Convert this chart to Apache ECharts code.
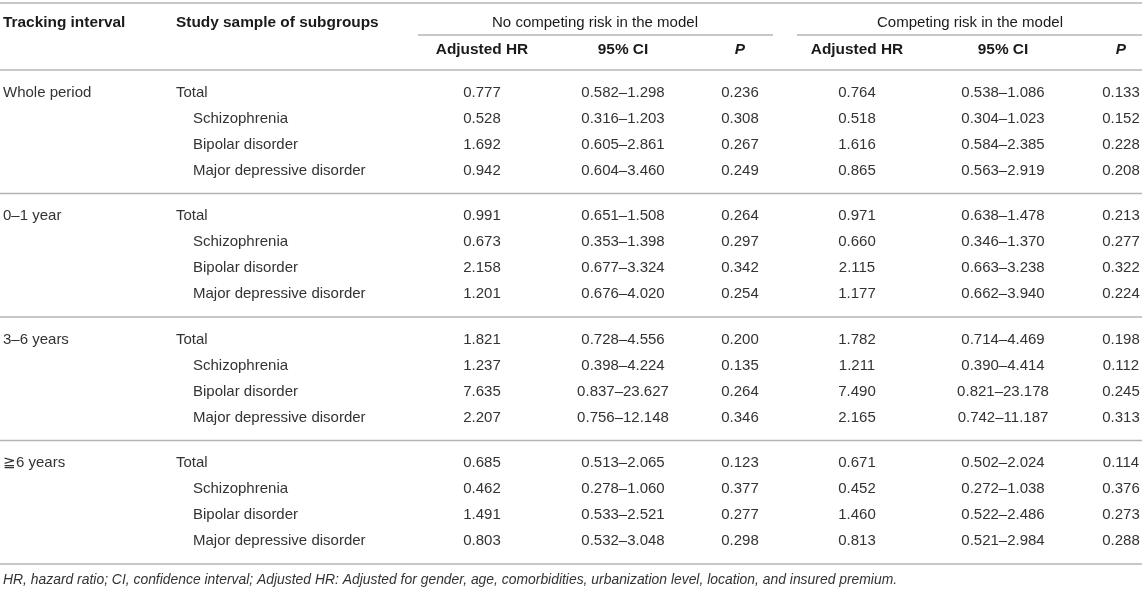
<html>
  <head>
    <title>HR table</title>
    <script src="https://cdn.jsdelivr.net/npm/echarts@6.0.0/dist/echarts.min.js"></script>
    <style>
      body { margin: 0; background: #ffffff; }
      #table { width: 1142px; height: 591px; }
    </style>
  </head>
  <body>
    <div id="table"></div>
    <script>
      // table data
      const intervals = ['Whole period', '0–1 year', '3–6 years', '≧6 years']
      const subgroups = ['Total', 'Schizophrenia', 'Bipolar disorder', 'Major depressive disorder']

      // no competing risk in the model
      const noCompHR = [
        [0.777, 0.528, 1.692, 0.942],
        [0.991, 0.673, 2.158, 1.201],
        [1.821, 1.237, 7.635, 2.207],
        [0.685, 0.462, 1.491, 0.803]
      ]
      const noCompLow = [
        [0.582, 0.316, 0.605, 0.604],
        [0.651, 0.353, 0.677, 0.676],
        [0.728, 0.398, 0.837, 0.756],
        [0.513, 0.278, 0.533, 0.532]
      ]
      const noCompHigh = [
        [1.298, 1.203, 2.861, 3.460],
        [1.508, 1.398, 3.324, 4.020],
        [4.556, 4.224, 23.627, 12.148],
        [2.065, 1.060, 2.521, 3.048]
      ]
      const noCompP = [
        [0.236, 0.308, 0.267, 0.249],
        [0.264, 0.297, 0.342, 0.254],
        [0.200, 0.135, 0.264, 0.346],
        [0.123, 0.377, 0.277, 0.298]
      ]

      // competing risk in the model
      const compHR = [
        [0.764, 0.518, 1.616, 0.865],
        [0.971, 0.660, 2.115, 1.177],
        [1.782, 1.211, 7.490, 2.165],
        [0.671, 0.452, 1.460, 0.813]
      ]
      const compLow = [
        [0.538, 0.304, 0.584, 0.563],
        [0.638, 0.346, 0.663, 0.662],
        [0.714, 0.390, 0.821, 0.742],
        [0.502, 0.272, 0.522, 0.521]
      ]
      const compHigh = [
        [1.086, 1.023, 2.385, 2.919],
        [1.478, 1.370, 3.238, 3.940],
        [4.469, 4.414, 23.178, 11.187],
        [2.024, 1.038, 2.486, 2.984]
      ]
      const compP = [
        [0.133, 0.152, 0.228, 0.208],
        [0.213, 0.277, 0.322, 0.224],
        [0.198, 0.112, 0.245, 0.313],
        [0.114, 0.376, 0.273, 0.288]
      ]

      const footnote = 'HR, hazard ratio; CI, confidence interval; Adjusted HR: Adjusted for gender, age, comorbidities, urbanization level, location, and insured premium.'

      // layout
      const W = 1142
      const FONT = '"Liberation Sans", Arial, Helvetica, sans-serif'
      const txtColor = '#333333'
      const headColor = '#1a1a1a'
      const lineColor = '#b4b4b4'
      const colX = { interval: 3, sub: 176, indent: 193 }
      const numCols = [482, 623, 740, 857, 1003, 1121]
      const headerBottom = 70
      const blockH = 123.5
      const rowFirst = 22.5
      const rowStep = 26

      const fmt = v => v.toFixed(3)

      const els = []

      function text(str, x, y, opts) {
        opts = opts || {}
        els.push({
          type: 'text',
          silent: true,
          style: {
            text: str,
            x: x,
            y: y,
            fill: opts.color || txtColor,
            font: (opts.font || '') + ' ' + (opts.size || 15) + 'px ' + FONT,
            align: opts.align || 'left',
            verticalAlign: 'middle'
          }
        })
      }

      function hline(x1, x2, y) {
        els.push({
          type: 'line',
          silent: true,
          shape: { x1: x1, y1: y, x2: x2, y2: y },
          style: { stroke: lineColor, lineWidth: 1.6 }
        })
      }

      // header
      hline(0, W, 3)
      text('Tracking interval', colX.interval, 23, { font: 'bold', color: headColor, size: 15.4 })
      text('Study sample of subgroups', colX.sub, 23, { font: 'bold', color: headColor, size: 15.4 })
      text('No competing risk in the model', 595, 23, { align: 'center', color: headColor })
      text('Competing risk in the model', 970, 23, { align: 'center', color: headColor })
      hline(418, 773, 35)
      hline(797, W, 35)
      const subHead = ['Adjusted HR', '95% CI', 'P', 'Adjusted HR', '95% CI', 'P']
      subHead.forEach((h, i) => {
        text(h, numCols[i], 50, {
          align: 'center',
          color: headColor,
          font: h === 'P' ? 'italic bold' : 'bold',
          size: 15.4
        })
      })
      hline(0, W, headerBottom)

      // body
      intervals.forEach((name, g) => {
        const top = headerBottom + g * blockH
        text(name, colX.interval, top + rowFirst)
        subgroups.forEach((sg, r) => {
          const y = top + rowFirst + r * rowStep
          text(sg, r === 0 ? colX.sub : colX.indent, y)
          const cells = [
            fmt(noCompHR[g][r]),
            fmt(noCompLow[g][r]) + '–' + fmt(noCompHigh[g][r]),
            fmt(noCompP[g][r]),
            fmt(compHR[g][r]),
            fmt(compLow[g][r]) + '–' + fmt(compHigh[g][r]),
            fmt(compP[g][r])
          ]
          cells.forEach((c, i) => text(c, numCols[i], y, { align: 'center' }))
        })
        hline(0, W, top + blockH)
      })

      // footnote
      text(footnote, 3, 580, { font: 'italic', size: 13.9 })

      const chart = echarts.init(document.getElementById('table'), null, { renderer: 'canvas' })
      chart.setOption({
        backgroundColor: '#ffffff',
        animation: false,
        graphic: els
      })
    </script>
  </body>
</html>
